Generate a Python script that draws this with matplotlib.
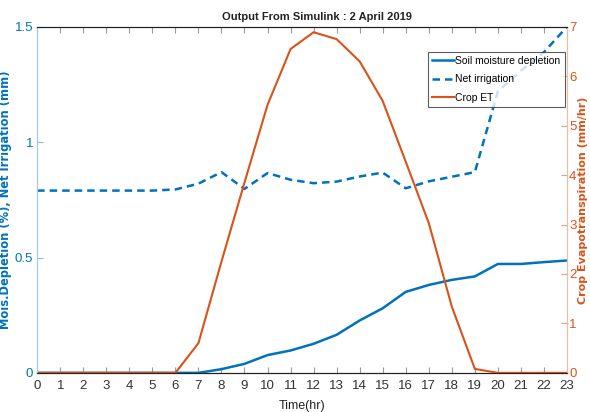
import numpy as np
import matplotlib.pyplot as plt

plt.rcParams['font.family'] = ['Liberation Sans', 'DejaVu Sans']

## data
hours = np.arange(0, 24)
soil_depletion = [0, 0, 0, 0, 0, 0, 0, 0, 0.016, 0.039, 0.077, 0.097, 0.126, 0.165,
                  0.227, 0.28, 0.351, 0.381, 0.403, 0.418, 0.472, 0.472, 0.48, 0.487]
net_irrigation = [0.79, 0.79, 0.79, 0.79, 0.79, 0.79, 0.795, 0.82, 0.87, 0.797, 0.866, 0.837,
                  0.822, 0.829, 0.851, 0.868, 0.80, 0.83, 0.85, 0.87, 1.22, 1.31, 1.39, 1.5]
crop_et = [0, 0, 0, 0, 0, 0, 0, 0.6, 2.25, 3.85, 5.42, 6.55, 6.89, 6.75,
           6.3, 5.5, 4.27, 3.03, 1.34, 0.08, 0, 0, 0, 0]

blue = '#0072BD'
orange = '#D95319'

fig = plt.figure(figsize=(5.9, 4.12), dpi=100)
ax = fig.add_axes([0.063, 0.095, 0.898, 0.84])
ax2 = ax.twinx()

l1, = ax.plot(hours, soil_depletion, color=blue, lw=1.8, label='Soil moisture depletion')
l2, = ax.plot(hours, net_irrigation, color=blue, lw=1.8, ls=(0, (3, 2)), label='Net irrigation')
l3, = ax2.plot(hours, crop_et, color=orange, lw=1.5, label='Crop ET')

ax.set_xlim(0, 23)
ax.set_ylim(0, 1.5)
ax2.set_ylim(0, 7)
ax.set_xticks(hours)
ax.set_yticks([0, 0.5, 1, 1.5])
ax.set_yticklabels(['0', '0.5', '1', '1.5'])
ax2.set_yticks(range(0, 8))

ax.tick_params(axis='x', direction='in', top=True, length=4, color='#999999',
               labelsize=9.5, labelcolor='#333333', pad=5)
ax.tick_params(axis='y', direction='in', length=4, color='#8fb8d8',
               labelsize=9.5, labelcolor=blue, pad=3)
ax2.tick_params(axis='y', direction='in', length=4, color='#e0a080',
                labelsize=9.5, labelcolor=orange, pad=1.5)

for a in (ax, ax2):
    a.spines['left'].set_color('#a8c8e0')
    a.spines['right'].set_color('#e8c0a8')
    a.spines['top'].set_color('#222222')
    a.spines['bottom'].set_color('#222222')

ax.set_xlabel('Time(hr)', fontsize=9, color='#222222', labelpad=6)
ax.set_ylabel('Mois.Depletion (%), Net Irrigation (mm)', fontsize=8.3,
              fontweight='bold', color=blue, fontfamily=['DejaVu Sans'])
ax.yaxis.set_label_coords(-0.047, 0.5)
ax2.set_ylabel('Crop Evapotranspiration (mm/hr)', fontsize=8,
               fontweight='bold', color=orange, fontfamily=['DejaVu Sans'])
ax2.yaxis.set_label_coords(1.02, 0.5)
ax.set_title('Output From Simulink : 2 April 2019', fontsize=8, fontweight='bold',
             color='#222222', pad=5, x=0.528)

leg = ax2.legend(handles=[l1, l2, l3], loc='upper left', bbox_to_anchor=(0.738, 0.928),
                 fontsize=7.5, frameon=True, fancybox=False, borderpad=0.4,
                 handlelength=2.1, handletextpad=0.1, labelspacing=0.8,
                 borderaxespad=0)
leg.get_frame().set_edgecolor('#333333')
leg.get_frame().set_linewidth(0.8)

fig.savefig('out.png', dpi=100)
